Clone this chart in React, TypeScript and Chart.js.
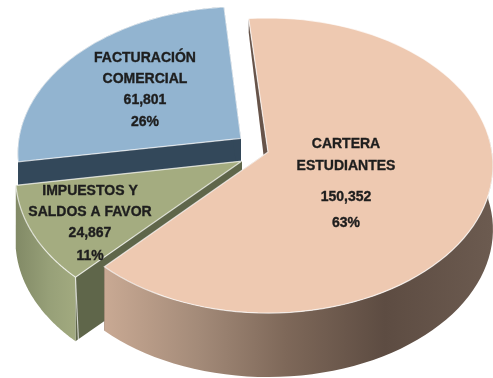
import React, { useEffect, useRef } from "react";
import { Chart, registerables } from "chart.js";

Chart.register(...registerables);

const categories = ["CARTERA ESTUDIANTES", "IMPUESTOS Y SALDOS A FAVOR", "FACTURACIÓN COMERCIAL"];
const labelLines = [["CARTERA", "ESTUDIANTES"], ["IMPUESTOS Y", "SALDOS A FAVOR"], ["FACTURACIÓN", "COMERCIAL"]];
const values = [150352, 24867, 61801];
const percents = ["63%", "11%", "26%"];
const valueTexts = ["150,352", "24,867", "61,801"];
const explode = [0, 23, 27];

const topColors = ["#EEC9B1", "#A4AC80", "#92B4D0"];
const faceColors = ["#67544A", "#5F664A", "#33485A"];
const wallStops: [number, string][][] = [
  [[0.2, "#CBAB95"], [0.4, "#A48B79"], [0.58, "#7E6859"], [0.78, "#5D4C42"], [1, "#6C5B50"]],
  [[0.02, "#7E8663"], [0.1, "#97A078"], [0.16, "#A3AB80"]],
  [[0, "#33485A"], [1, "#33485A"]],
];
const labelX = [346, 90, 145];
const labelY = [[144, 166, 197, 223], [191, 212, 233, 256], [58, 79, 100, 122]];

const VIEW = { cx: 268, cy: 152, rx: 224, ry: 146.3, k: 0.0915, depth: 64, backApex: 40, backRim: 14 };
const project = (u: number, v: number, z = 0): [number, number] => {
  const w = 1 - VIEW.k * v;
  return [VIEW.cx + (VIEW.rx * u) / w, VIEW.cy + (VIEW.ry * v) / w + z];
};

const pie3d = {
  id: "pie3d",
  beforeDatasetsDraw(chart: any) {
    const ctx: CanvasRenderingContext2D = chart.ctx;
    const meta = chart.getDatasetMeta(0);
    [2, 1, 0].forEach((i) => {
      const el = meta.data[i];
      const { x, y, startAngle, endAngle, outerRadius } = el.getProps(["x", "y", "startAngle", "endAngle", "outerRadius"], true);
      const R = outerRadius;
      const mid = (startAngle + endAngle) / 2;
      const off = (el.options.offset || 0) / R;
      const ox = Math.cos(mid) * off + (el.x - x) / R;
      const oy = Math.sin(mid) * off + (el.y - y) / R;
      const pts: [number, number][] = [];
      const n = 90;
      for (let s = 0; s <= n; s++) {
        const a = startAngle + ((endAngle - startAngle) * s) / n;
        pts.push([Math.cos(a) + ox, Math.sin(a) + oy]);
      }
      const apex: [number, number] = [ox, oy];
      const path = (list: [number, number][]) => {
        ctx.beginPath();
        list.forEach((p, j) => (j ? ctx.lineTo(p[0], p[1]) : ctx.moveTo(p[0], p[1])));
        ctx.closePath();
      };
      const face = (p: [number, number], za: number, zr: number) => {
        path([project(apex[0], apex[1]), project(p[0], p[1]), project(p[0], p[1], zr), project(apex[0], apex[1], za)]);
        ctx.fillStyle = faceColors[i];
        ctx.fill();
      };
      if (i === 0) face(pts[0], VIEW.backApex, VIEW.backRim);
      else face(pts[0], VIEW.depth, VIEW.depth);
      face(pts[n], VIEW.depth, VIEW.depth);
      // outer wall: only the part facing the viewer
      const front = i === 2 ? pts : pts.filter((p) => p[1] - oy > -0.12);
      const wall = [...front.map((p) => project(p[0], p[1])), ...front.slice().reverse().map((p) => project(p[0], p[1], VIEW.depth))];
      const g = ctx.createLinearGradient(0, 0, 493, 0);
      wallStops[i].forEach(([o, c]) => g.addColorStop(o, c));
      path(wall);
      ctx.fillStyle = g;
      ctx.fill();
      // top surface
      path([project(apex[0], apex[1]), ...pts.map((p) => project(p[0], p[1]))]);
      ctx.fillStyle = topColors[i];
      ctx.fill();
      ctx.strokeStyle = "rgba(255,255,255,0.7)";
      ctx.lineWidth = 1.2;
      ctx.stroke();
      if (i === 1) {
        const p = project(pts[0][0], pts[0][1]);
        ctx.beginPath();
        ctx.moveTo(p[0], p[1]);
        ctx.lineTo(p[0] + 3, p[1] + VIEW.depth);
        ctx.stroke();
      }
    });
    return false;
  },
  afterDraw(chart: any) {
    const ctx: CanvasRenderingContext2D = chart.ctx;
    ctx.save();
    ctx.fillStyle = "#1E1E1E";
    ctx.strokeStyle = "#1E1E1E";
    ctx.lineWidth = 0.35;
    ctx.font = 'bold 14px "Liberation Sans"';
    ctx.textAlign = "center";
    ctx.textBaseline = "middle";
    categories.forEach((_, i) => {
      const lines = [...labelLines[i], valueTexts[i], percents[i]];
      lines.forEach((t, j) => {
        ctx.fillText(t, labelX[i], labelY[i][j]);
        ctx.strokeText(t, labelX[i], labelY[i][j]);
      });
    });
    ctx.restore();
  },
};

export default function App() {
  const ref = useRef<HTMLCanvasElement>(null);
  useEffect(() => {
    const chart = new Chart(ref.current!, {
      type: "pie",
      data: {
        labels: categories,
        datasets: [{ data: values, backgroundColor: topColors, offset: explode, borderWidth: 0 }],
      },
      options: {
        responsive: false,
        animation: false,
        rotation: -5.4,
        plugins: { legend: { display: false }, tooltip: { enabled: false } },
      },
      plugins: [pie3d],
    } as any);
    return () => chart.destroy();
  }, []);
  return (
    <div style={{ position: "fixed", left: 0, top: 0, width: 493, height: 378, background: "#fff" }}>
      <canvas ref={ref} width={493} height={378} style={{ display: "block", filter: "blur(0.7px)" }} />
    </div>
  );
}
